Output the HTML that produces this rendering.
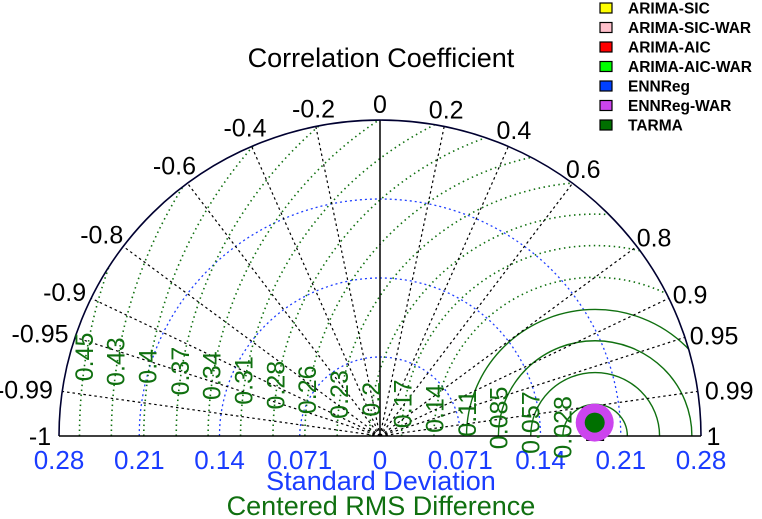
<!DOCTYPE html>
<html><head><meta charset="utf-8"><style>
html,body{margin:0;padding:0;background:#fff;}
svg{display:block;font-family:"Liberation Sans",Arial,sans-serif;}
</style></head><body>
<svg id="chart" width="762" height="519" viewBox="0 0 762 519" xmlns="http://www.w3.org/2000/svg"></svg>
<script>
const models = ["ARIMA-SIC","ARIMA-SIC-WAR","ARIMA-AIC","ARIMA-AIC-WAR","ENNReg","ENNReg-WAR","TARMA"];
const modelSD = [0.189,0.189,0.189,0.189,0.189,0.189,0.189];
const modelCorr = [0.998,0.998,0.998,0.998,0.998,0.998,0.998];
const refSD = 0.189;
const corrTicks = [-1,-0.99,-0.95,-0.9,-0.8,-0.6,-0.4,-0.2,0,0.2,0.4,0.6,0.8,0.9,0.95,0.99,1];
const corrLabels = ["-1","-0.99","-0.95","-0.9","-0.8","-0.6","-0.4","-0.2","0","0.2","0.4","0.6","0.8","0.9","0.95","0.99","1"];
const sdTicks = [0.0705,0.141,0.2115,0.282];
const sdLabels = ["0.071","0.14","0.21","0.28"];
const rmsTicks = [0.0283,0.0566,0.085,0.113,0.1416,0.17,0.198,0.2266,0.255,0.283,0.3115,0.34,0.368,0.3965,0.425,0.453];
const rmsLabels = ["0.028","0.057","0.085","0.11","0.14","0.17","0.2","0.23","0.26","0.28","0.31","0.34","0.37","0.4","0.43","0.45"];

const colors = ["#ffff00","#ffc0cb","#ff0000","#00ff00","#0040ff","#cc44ee","#007000"];
const sizes = [8,8,8,8,8,19,10];
const NS="http://www.w3.org/2000/svg";
const svg=document.getElementById('chart');
const OX=380, OY=436, SDMAX=0.282, RX=321, RY=316;
function px(sd,ang){return OX+sd/SDMAX*RX*Math.cos(ang);}
function py(sd,ang){return OY-sd/SDMAX*RY*Math.sin(ang);}
function el(tag,attrs,parent){const e=document.createElementNS(NS,tag);for(const k in attrs)e.setAttribute(k,attrs[k]);(parent||svg).appendChild(e);return e;}

const defs=el('defs',{});
const cp=el('clipPath',{id:'semi'},defs);
el('path',{d:`M${OX-RX},${OY} A${RX},${RY} 0 0 1 ${OX+RX},${OY} Z`},cp);

sdTicks.slice(0,3).forEach((s,i)=>{
  const a=el('path',{d:`M${px(s,Math.PI)},${OY} A${s/SDMAX*RX},${s/SDMAX*RY} 0 0 1 ${px(s,0)},${OY}`,fill:'none',stroke:'#2040ff','stroke-width':1.3,'stroke-dasharray':'2,3'});
  
  
});
const g=el('g',{'clip-path':'url(#semi)'});
const refX=px(refSD,0);
rmsTicks.forEach((r,i)=>{
  const rx=r/SDMAX*RX, ry=r/SDMAX*RY;
  const a=el('path',{d:`M${refX-rx},${OY} A${rx},${ry} 0 0 1 ${refX+rx},${OY}`,fill:'none',stroke:'#107010','stroke-width':i<4?1.4:1.6,'stroke-dasharray':i<4?'none':'1.5,3.5'},g);
  
  
});
corrTicks.forEach((c,i)=>{
  if(Math.abs(c)===1) return;
  const ang=Math.acos(c);
  const l=el('line',{x1:OX,y1:OY,x2:px(SDMAX,ang),y2:py(SDMAX,ang),stroke:'#000','stroke-width':c===0?1.5:1.2,'stroke-dasharray':c===0?'none':'2.5,3'});
  
  
});
const oa=el('path',{d:`M${OX-RX},${OY} A${RX},${RY} 0 0 1 ${OX+RX},${OY}`,fill:'none',stroke:'#000030','stroke-width':1.6});


const ax=el('line',{x1:OX-RX,y1:OY,x2:OX+RX,y2:OY,stroke:'#000','stroke-width':1.6});



corrTicks.forEach((c,i)=>{
  const ang=Math.acos(c);
  const t=el('text',{'font-size':25,fill:'#000','text-anchor':'middle','dominant-baseline':'central'});
  t.textContent=corrLabels[i];
  const hw=corrLabels[i].length*6.5;
  const rr=RX+6+hw*Math.abs(Math.cos(ang));
  const dy=14*Math.abs(c)*Math.min(1,Math.sin(ang)*2.5+0.2);
  t.setAttribute('x',OX+rr*Math.cos(ang));
  t.setAttribute('y',OY-(rr+2)*Math.sin(ang)-2+dy);
  
  
});
const sdAll=[...sdTicks.map(s=>-s).reverse(),0,...sdTicks];
const sdLab=[...sdLabels.slice().reverse(),"0",...sdLabels];
sdAll.forEach((s,i)=>{
  const t=el('text',{x:OX+s/SDMAX*RX,y:469,'font-size':26,fill:'#1a3cff','text-anchor':'middle'});
  t.textContent=sdLab[i];
  
  
});
const la=8.5*Math.PI/180;
rmsTicks.forEach((r,i)=>{
  const x=refX-r/SDMAX*RX*Math.cos(la), y=OY-r/SDMAX*RY*Math.sin(la)-4;
  const t=el('text',{x:x,y:y,'font-size':25,fill:'#107010','text-anchor':'middle','dominant-baseline':'central',transform:`rotate(-90 ${x} ${y})`});
  t.textContent=rmsLabels[i];
  
  
});
const rm=el('rect',{x:refX-9,y:OY-5,width:18,height:10,fill:'#000'});


models.forEach((m,i)=>{
  const ang=Math.acos(modelCorr[i]);
  const c=el('circle',{cx:px(modelSD[i],ang),cy:py(modelSD[i],ang),r:sizes[i],fill:colors[i]});
  
  
});
let t=el('text',{x:381,y:67,'font-size':27,'text-anchor':'middle',fill:'#000'});t.textContent='Correlation Coefficient';

t=el('text',{x:381,y:490,'font-size':27,'text-anchor':'middle',fill:'#1a3cff'});t.textContent='Standard Deviation';

t=el('text',{x:381,y:515,'font-size':27,'text-anchor':'middle',fill:'#107010'});t.textContent='Centered RMS Difference';

models.forEach((m,i)=>{
  const y=8+i*19.5;
  const r=el('rect',{x:600,y:y-5,width:12,height:10,fill:colors[i],stroke:'#000','stroke-width':1.2});
  
  
  const tx=el('text',{x:628,y:y+5.5,'font-size':15.5,'font-weight':'bold',fill:'#000'});
  tx.textContent=m;
  
  
});
</script>
</body></html>
